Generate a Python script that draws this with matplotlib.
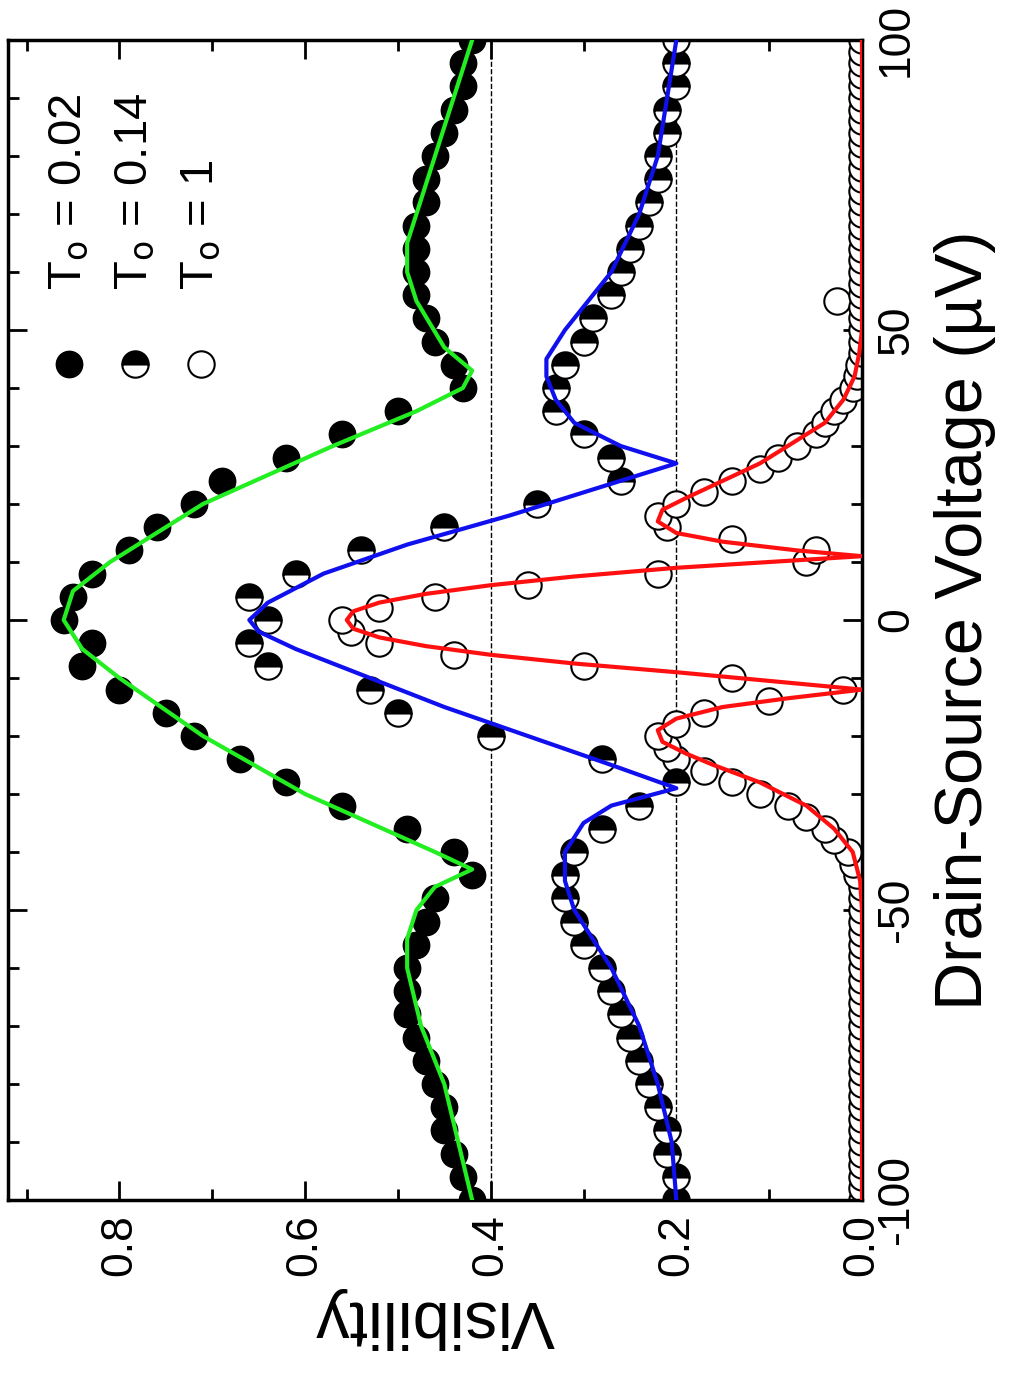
import matplotlib
matplotlib.use('Agg')
import matplotlib.pyplot as plt
import numpy as np

plt.rcParams['font.family'] = ['Liberation Sans', 'DejaVu Sans']

# Fit curves (voltage in uV, visibility)
fit_V_g = [-100,-90,-80,-70,-60,-55,-50,-46,-43,-40,-35,-30,-20,-10,-5,0,5,10,20,30,36,40,43,47,55,60,65,70,80,90,100]
fit_g   = [0.42,0.435,0.45,0.475,0.49,0.49,0.48,0.46,0.42,0.46,0.53,0.60,0.71,0.80,0.84,0.86,0.85,0.81,0.71,0.57,0.48,0.43,0.42,0.45,0.48,0.49,0.49,0.48,0.46,0.44,0.42]
fit_V_b = [-100,-90,-80,-70,-60,-55,-50,-45,-40,-35,-32,-29,-25,-20,-15,-10,-5,-2,0,3,8,13,18,22,27,30,34,38,42,45,50,60,70,80,90,100]
fit_b   = [0.20,0.205,0.22,0.24,0.27,0.29,0.31,0.32,0.32,0.30,0.27,0.20,0.27,0.36,0.45,0.53,0.61,0.65,0.66,0.64,0.58,0.49,0.38,0.30,0.20,0.26,0.31,0.33,0.34,0.34,0.32,0.27,0.24,0.22,0.21,0.20]
fit_V_r = [-100,-50,-45,-40,-36,-32,-28,-25,-23,-21,-19,-17,-15,-13.5,-12,-10.5,-9,-7.5,-6,-4.5,-3,-1.5,0,1.5,3,4.5,6,7.5,9,10,11,12,13.5,15,17,19,21,24,27,30,34,38,42,46,50,100]
fit_r   = [0,0,0.002,0.01,0.03,0.06,0.11,0.16,0.19,0.215,0.22,0.20,0.15,0.08,0.0,0.10,0.2,0.31,0.40,0.47,0.52,0.548,0.555,0.548,0.52,0.47,0.40,0.31,0.20,0.10,0.0,0.07,0.15,0.20,0.22,0.215,0.19,0.15,0.11,0.08,0.04,0.02,0.008,0.003,0,0]

# Data points
V4 = list(range(-100, 101, 4))
d_full = [.42,.43,.44,.45,.45,.46,.47,.48,.49,.49,.49,.48,.47,.46,.42,.44,.49,.56,.62,.67,.72,.75,.80,.84,.83,.86,
          .85,.83,.79,.76,.72,.69,.62,.56,.50,.43,.44,.46,.47,.48,.48,.48,.48,.47,.47,.46,.45,.44,.43,.43,.42]
d_half = [.20,.20,.21,.21,.22,.23,.24,.25,.26,.27,.28,.30,.31,.32,.32,.31,.28,.24,.20,.28,.40,.50,.53,.64,.66,.64,
          .66,.61,.54,.45,.35,.26,.27,.30,.33,.33,.32,.30,.29,.27,.26,.25,.24,.23,.22,.22,.21,.21,.20,.20,.20]
V_open = list(range(-100, -44, 2)) + list(range(-44, 45, 2)) + [55] + list(range(46, 101, 2))
d_open = [0.0]*28 + [.005,.01,.015,.03,.04,.06,.08,.11,.14,.17,.20,.21,.22,.20,.17,.10,.02,.14,.30,.44,.52,.55,.56,
          .52,.46,.36,.22,.06,.05,.14,.21,.22,.20,.17,.14,.11,.09,.07,.05,.04,.03,.02,.01,.005,.003] + [0.027] + [0.0]*28

fig = plt.figure(figsize=(10.31, 13.81), dpi=100)
ax = fig.add_axes([8/1031, 1-1200/1381, 854/1031, 1160/1381])
ax.set_xlim(0.92, 0.0)
ax.set_ylim(-100, 100)

ms = 19
ax.plot(d_open, V_open, 'o', ms=ms, mfc='white', mec='black', mew=1.5, zorder=2)
ax.plot(d_half, V4, 'o', ms=ms, fillstyle='top', mfc='black', mfcalt='white', mec='black', mew=1.5, zorder=2)
ax.plot(d_full, V4, 'o', ms=ms, mfc='black', mec='black', zorder=2)
ax.plot(fit_g, fit_V_g, color='#22ee22', lw=3, zorder=3)
ax.plot(fit_b, fit_V_b, color='#1010ee', lw=3, zorder=3)
ax.plot(fit_r, fit_V_r, color='#ff1010', lw=3, zorder=3)
for v in (0.4, 0.2):
    ax.axvline(v, color='black', ls='--', lw=1, zorder=1)

ax.set_xticks([0.0, 0.2, 0.4, 0.6, 0.8])
ax.set_xticklabels(['0.0', '0.2', '0.4', '0.6', '0.8'], rotation=90, fontsize=32)
ax.set_xticks(np.arange(0.1, 0.92, 0.2), minor=True)
ax.set_yticks([-100, -50, 0, 50, 100])
ax.set_yticks(range(-90, 100, 10), minor=True)
ax.yaxis.tick_right()
ax.set_yticklabels(['-100', '-50', '0', '50', '100'], rotation=90, va='center', fontsize=32)
ax.tick_params(which='both', direction='in', top=True, bottom=True, left=True, right=True, width=2)
ax.tick_params(which='major', length=14, pad=10)
ax.tick_params(which='minor', length=8)
for s in ax.spines.values():
    s.set_linewidth(2.5)

ax.set_xlabel('Visibility', fontsize=48, rotation=180, labelpad=8)
ax.yaxis.set_label_position('right')
ax.set_ylabel('Drain-Source Voltage (µV)', fontsize=48, rotation=90, labelpad=12)

# legend
labels = [r'T$_{\rm o}$ = 0.02', r'T$_{\rm o}$ = 0.14', r'T$_{\rm o}$ = 1']
xs = [69, 135, 201]
ym = 364
styles = [dict(mfc='black', mec='black'), dict(fillstyle='top', mfc='black', mfcalt='white', mec='black', mew=1.5),
          dict(mfc='white', mec='black', mew=1.5)]
for x, lab, st in zip(xs, labels, styles):
    fx, fy = x/1031, 1-ym/1381
    fig.lines.append(matplotlib.lines.Line2D([fx], [fy], marker='o', ms=ms, transform=fig.transFigure, **st))
    fig.text(fx, 1-290/1381, lab, rotation=90, ha='center', va='bottom', fontsize=34)

fig.savefig('out.png', dpi=100)
